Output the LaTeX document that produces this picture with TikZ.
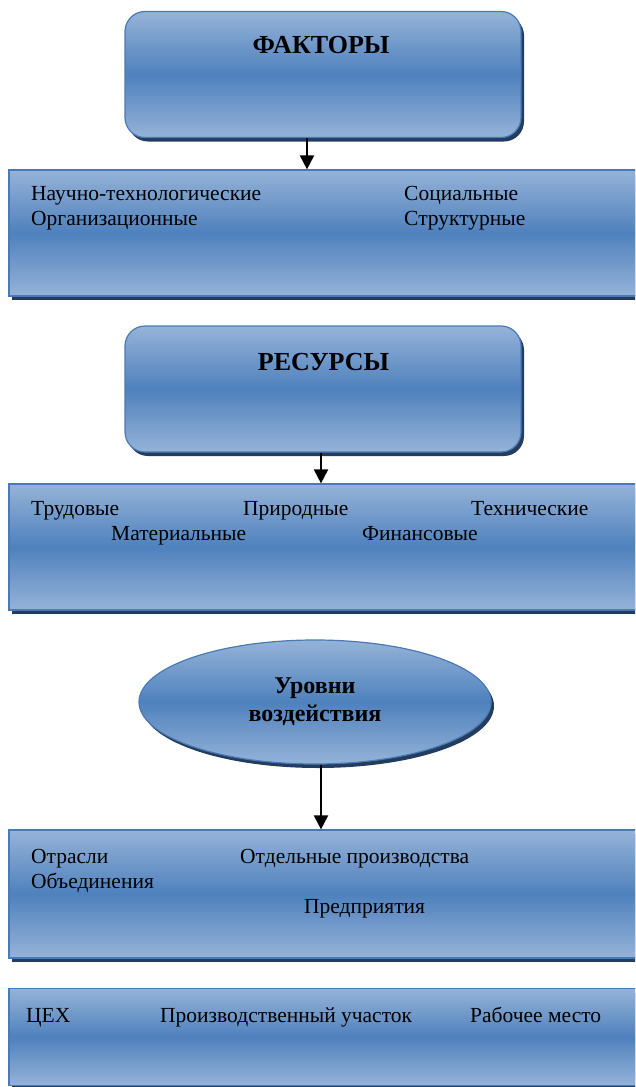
\documentclass[tikz,border=0pt]{standalone}
\usepackage{fontspec}
\setmainfont{Liberation Serif}
\usetikzlibrary{shadows,shapes.geometric,arrows.meta}

\definecolor{boxlight}{RGB}{149,179,216}
\definecolor{boxmid}{RGB}{79,129,189}
\definecolor{boxline}{RGB}{74,122,182}
\definecolor{boxshade}{RGB}{36,60,94}

\tikzset{
  panel/.style={draw=boxline, line width=1.2pt, top color=boxlight, bottom color=boxlight,
    middle color=boxmid, drop shadow={shadow xshift=3pt, shadow yshift=-4pt, fill=boxshade, opacity=1}},
  headbox/.style={panel, rounded corners=20pt, minimum width=396pt, minimum height=126pt},
  listbox/.style={panel, minimum width=632pt},
  head/.style={anchor=base, inner sep=0pt, font=\fontsize{26}{30}\selectfont\bfseries},
  item/.style={anchor=base west, inner sep=0pt, font=\fontsize{21.5}{25}\selectfont},
  arrow/.style={line width=2pt, -{Triangle[length=14pt,width=14pt]}}
}

\begin{document}
\begin{tikzpicture}[x=1pt,y=-1pt]
\useasboundingbox (0,0) rectangle (635,1087);
\clip (0,0) rectangle (635,1087);

\node[headbox] (factors) at (323,74.5) {};
\node[head] (factorsT) at (321,53) {ФАКТОРЫ};
\node[listbox, minimum height=126pt] (factorlist) at (325,233) {};
\node[item] (f1) at (31,200) {Научно-технологические};
\node[item] (f2) at (31,225) {Организационные};
\node[item] (f3) at (404,200) {Социальные};
\node[item] (f4) at (404,225) {Структурные};

\node[headbox] (resources) at (323,389) {};
\node[head] (resourcesT) at (323.5,370) {РЕСУРСЫ};
\node[listbox, minimum height=126pt] (resourcelist) at (325,547) {};
\node[item] (r1) at (31,515) {Трудовые};
\node[item] (r2) at (243,515) {Природные};
\node[item] (r3) at (471,515) {Технические};
\node[item] (r4) at (111,540) {Материальные};
\node[item] (r5) at (362,540) {Финансовые};

\node[panel, ellipse, minimum width=352pt, minimum height=124pt, align=center,
  font=\fontsize{24}{28}\selectfont\bfseries] (levels) at (315,702) {Уровни\\воздействия};
\node[listbox, minimum height=128pt] (levellist) at (325,894) {};
\node[item] (l1) at (31,863) {Отрасли};
\node[item] (l2) at (240,863) {Отдельные производства};
\node[item] (l3) at (31,888) {Объединения};
\node[item] (l4) at (304,913) {Предприятия};

\node[listbox, minimum height=97pt] (unitlist) at (325,1037) {};
\node[item] (u1) at (26,1022) {ЦЕХ};
\node[item] (u2) at (160,1022) {Производственный участок};
\node[item] (u3) at (470,1022) {Рабочее место};

\coordinate (ax1) at (307,0);
\coordinate (ax2) at (321,0);
\draw[arrow] (factors.south -| ax1) -- (factorlist.north -| ax1);
\draw[arrow] (resources.south -| ax2) -- (resourcelist.north -| ax2);
\draw[arrow] (levels.south -| ax2) -- (levellist.north -| ax2);
\end{tikzpicture}
\end{document}
